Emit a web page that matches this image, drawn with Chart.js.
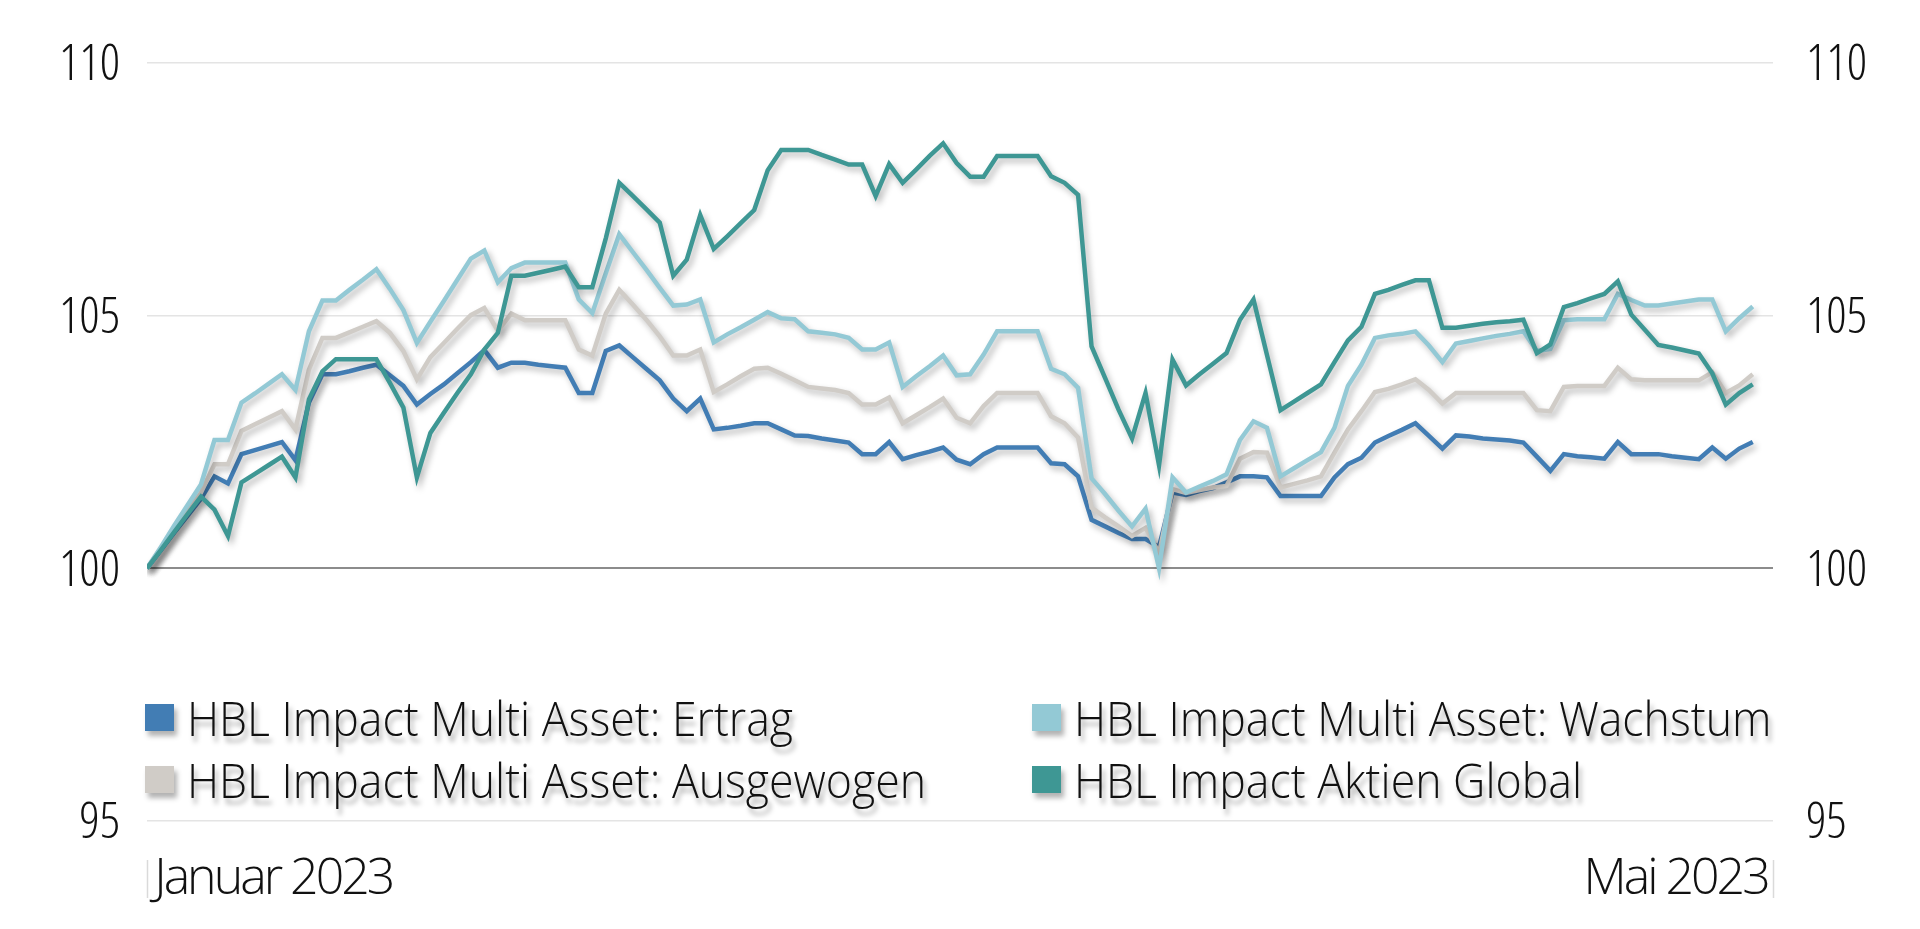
<!DOCTYPE html>
<html lang="de">
<head>
<meta charset="utf-8">
<title>HBL Impact Fonds 2023</title>
<script src="https://cdn.jsdelivr.net/npm/chart.js@4.4.1/dist/chart.umd.min.js"></script>
<style>
  html, body { margin: 0; padding: 0; background: #fff; }
  #wrap { position: relative; width: 1920px; height: 929px; overflow: hidden; }
  #legend { position: absolute; left: 0; top: 0; font-family: 'Open Sans', sans-serif; font-weight: 300; font-size: 48px; color: #111; }
  .item { position: absolute; white-space: nowrap; line-height: 48px; height: 48px; }
  .swatch { position: absolute; left: 0; top: 10px; width: 29px; height: 27px; box-shadow: 3px 5px 5px rgba(0,0,0,0.3); }
  .label { position: absolute; left: 42px; top: 0; display: inline-block; transform: scaleX(0.93); transform-origin: left center; text-shadow: 3px 6px 6px rgba(0,0,0,0.35); }
</style>
</head>
<body>
<div id="wrap">
  <canvas id="chart" width="1920" height="929"></canvas>
  <div id="legend"></div>
</div>
<script>
// series names + colours, legend order
const seriesNames = [
  'HBL Impact Multi Asset: Ertrag',
  'HBL Impact Multi Asset: Wachstum',
  'HBL Impact Multi Asset: Ausgewogen',
  'HBL Impact Aktien Global'
];
const seriesColors = ['#427db4', '#93c9d5', '#d0ccc7', '#3e9794'];

// daily index values, 1 Jan 2023 = 100
const ertrag = [
  100, 100.35, 100.70, 101.04, 101.38, 101.82, 101.68, 102.26, 102.34, 102.42,
  102.50, 102.14, 103.28, 103.84, 103.84, 103.90, 103.97, 104.03, 103.82, 103.61,
  103.24, 103.45, 103.64, 103.86, 104.08, 104.32, 103.97, 104.07, 104.07, 104.03,
  104.00, 103.97, 103.47, 103.47, 104.30, 104.41, 104.18, 103.95, 103.72, 103.36,
  103.11, 103.36, 102.75, 102.78, 102.82, 102.87, 102.87, 102.75, 102.63, 102.62,
  102.57, 102.53, 102.49, 102.26, 102.26, 102.50, 102.16, 102.24, 102.31, 102.39,
  102.15, 102.06, 102.26, 102.39, 102.39, 102.39, 102.39, 102.08, 102.06, 101.82,
  100.96, 100.83, 100.70, 100.58, 100.58, 100.42, 101.50, 101.45, 101.53, 101.59,
  101.70, 101.82, 101.82, 101.80, 101.43, 101.43, 101.43, 101.43, 101.80, 102.06,
  102.19, 102.49, 102.62, 102.74, 102.87, 102.62, 102.37, 102.63, 102.61, 102.57,
  102.55, 102.53, 102.49, 102.21, 101.93, 102.26, 102.22, 102.20, 102.17, 102.50,
  102.26, 102.26, 102.26, 102.22, 102.19, 102.16, 102.39, 102.17, 102.37, 102.50
];
const wachstum = [
  100, 100.41, 100.84, 101.25, 101.66, 102.54, 102.54, 103.28, 103.46, 103.65,
  103.84, 103.53, 104.69, 105.30, 105.30, 105.51, 105.71, 105.92, 105.53, 105.11,
  104.46, 104.88, 105.29, 105.71, 106.13, 106.29, 105.66, 105.94, 106.05, 106.05,
  106.05, 106.05, 105.32, 105.05, 105.84, 106.61, 106.26, 105.91, 105.55, 105.20,
  105.22, 105.32, 104.47, 104.63, 104.77, 104.92, 105.07, 104.95, 104.93, 104.69,
  104.66, 104.63, 104.56, 104.33, 104.33, 104.47, 103.59, 103.80, 104.00, 104.21,
  103.82, 103.84, 104.23, 104.69, 104.69, 104.69, 104.69, 103.95, 103.84, 103.57,
  101.78, 101.47, 101.14, 100.83, 101.18, 100.00, 101.80, 101.50, 101.62, 101.73,
  101.86, 102.54, 102.91, 102.78, 101.82, 101.98, 102.14, 102.30, 102.78, 103.61,
  104.03, 104.56, 104.61, 104.64, 104.69, 104.41, 104.08, 104.45, 104.50, 104.55,
  104.60, 104.64, 104.69, 104.30, 104.34, 104.91, 104.93, 104.93, 104.93, 105.43,
  105.31, 105.20, 105.20, 105.24, 105.28, 105.32, 105.32, 104.69, 104.95, 105.18
];
const ausgewogen = [
  100, 100.38, 100.76, 101.13, 101.50, 102.06, 102.06, 102.72, 102.85, 102.98,
  103.11, 102.75, 103.93, 104.56, 104.56, 104.67, 104.78, 104.89, 104.66, 104.30,
  103.74, 104.18, 104.46, 104.74, 105.01, 105.15, 104.70, 105.04, 104.91, 104.91,
  104.91, 104.91, 104.33, 104.21, 105.04, 105.51, 105.22, 104.92, 104.59, 104.21,
  104.21, 104.33, 103.49, 103.64, 103.80, 103.95, 103.97, 103.85, 103.72, 103.59,
  103.56, 103.53, 103.47, 103.24, 103.24, 103.38, 102.87, 103.03, 103.19, 103.36,
  102.98, 102.87, 103.21, 103.47, 103.47, 103.47, 103.47, 103.01, 102.87, 102.59,
  101.20, 101.01, 100.83, 100.64, 100.80, 100.30, 101.57, 101.49, 101.55, 101.60,
  101.63, 102.17, 102.30, 102.29, 101.60, 101.67, 101.74, 101.82, 102.29, 102.75,
  103.11, 103.49, 103.55, 103.64, 103.74, 103.53, 103.26, 103.47, 103.47, 103.47,
  103.47, 103.47, 103.47, 103.13, 103.11, 103.59, 103.61, 103.61, 103.61, 103.97,
  103.74, 103.72, 103.72, 103.72, 103.72, 103.72, 103.88, 103.47, 103.62, 103.84
];
const aktienGlobal = [
  100, 100.35, 100.71, 101.07, 101.42, 101.16, 100.64, 101.70, 101.87, 102.04,
  102.21, 101.80, 103.34, 103.90, 104.14, 104.14, 104.14, 104.14, 103.67, 103.18,
  101.80, 102.68, 103.08, 103.47, 103.84, 104.33, 104.66, 105.79, 105.79, 105.85,
  105.91, 105.97, 105.56, 105.56, 106.53, 107.63, 107.37, 107.11, 106.84, 105.79,
  106.11, 106.99, 106.32, 106.57, 106.83, 107.09, 107.88, 108.28, 108.28, 108.28,
  108.18, 108.09, 107.99, 107.99, 107.37, 108.00, 107.63, 107.89, 108.16, 108.41,
  108.02, 107.75, 107.75, 108.16, 108.16, 108.16, 108.16, 107.76, 107.63, 107.39,
  104.39, 103.77, 103.14, 102.57, 103.47, 102.04, 104.13, 103.62, 103.84, 104.05,
  104.26, 104.92, 105.32, 104.22, 103.13, 103.30, 103.47, 103.64, 104.08, 104.51,
  104.78, 105.43, 105.51, 105.61, 105.70, 105.70, 104.76, 104.76, 104.80, 104.84,
  104.87, 104.89, 104.92, 104.26, 104.43, 105.17, 105.25, 105.34, 105.43, 105.68,
  105.02, 104.72, 104.42, 104.37, 104.31, 104.25, 103.86, 103.24, 103.47, 103.64
];
const seriesValues = [ertrag, wachstum, ausgewogen, aktienGlobal];

// axis labels (thin spaces keep them off the edge ticks)
const xStartLabel = '\u2009\u200AJanuar 2023';
const xEndLabel = 'Mai 2023\u2009';
const yTickValues = [95, 100, 105, 110];
const dayIndex = ertrag.map((_, i) => i);

// layout bits
const X_MAX = 120.5;            // axis runs a little past the last day
const drawOrder = [3, 1, 2, 0]; // teal on top, blue at the bottom
const legendSlots = [
  { left: 145, top: 694 }, { left: 1032, top: 694 },
  { left: 145, top: 756 }, { left: 1032, top: 756 }
];

// Open Sans is variable here, "condensed" picks the narrow width
const yFont = { family: "'Open Sans', sans-serif", size: 50, weight: 'condensed 300' };
const xFont = { family: "'Open Sans', sans-serif", size: 50, weight: '300' };

/* soft drop shadow under the lines; x labels (z 1) get a tighter letter spacing */
const lineShadow = {
  id: 'lineShadow',
  beforeDatasetsDraw(chart) {
    const c = chart.ctx;
    c.save();
    c.shadowColor = 'rgba(0,0,0,0.28)';
    c.shadowBlur = 6;
    c.shadowOffsetX = 3;
    c.shadowOffsetY = 4;
  },
  afterDatasetsDraw(chart) {
    chart.ctx.restore();
    chart.ctx.letterSpacing = '-3px';
  },
  afterDraw(chart) {
    chart.ctx.letterSpacing = '0px';
  }
};

const yTicks = {
  padding: 27,
  color: '#111',
  font: yFont,
  labelOffset: 3
};

new Chart(document.getElementById('chart'), {
  type: 'line',
  data: {
    labels: dayIndex,
    datasets: seriesNames.map((name, i) => ({
      label: name,
      data: seriesValues[i],
      borderColor: seriesColors[i],
      backgroundColor: seriesColors[i],
      borderWidth: 4.5,
      pointRadius: 0,
      tension: 0,
      fill: false,
      order: drawOrder[i]
    }))
  },
  options: {
    responsive: false,
    animation: false,
    devicePixelRatio: 1,
    layout: { padding: { top: 57, left: 0, right: 0, bottom: 0 } },
    plugins: { legend: { display: false }, tooltip: { enabled: false } },
    scales: {
      x: {
        type: 'linear',
        min: 0,
        max: X_MAX,
        afterBuildTicks: s => { s.ticks = [{ value: 0 }, { value: X_MAX }]; },
        afterFit: s => { s.height = 108; },
        border: { display: false },
        grid: {
          drawOnChartArea: false,
          drawTicks: true,
          tickLength: 77,
          tickColor: '#dadada',
          tickWidth: 1.5,
          tickBorderDash: [0, 39, 38, 300]
        },
        ticks: {
          z: 1,
          align: 'inner',
          padding: -48,
          maxRotation: 0,
          autoSkip: false,
          color: '#111',
          font: xFont,
          callback: v => (v === 0 ? xStartLabel : xEndLabel)
        }
      },
      y: {
        position: 'left',
        min: 95,
        max: 110,
        afterBuildTicks: s => { s.ticks = yTickValues.map(v => ({ value: v })); },
        afterFit: s => { s.width = 147; },
        border: { display: false },
        grid: {
          drawTicks: false,
          color: c => (c.tick && c.tick.value === 100 ? '#8c8c8c' : '#e4e4e4'),
          lineWidth: c => (c.tick && c.tick.value === 100 ? 2 : 1.5)
        },
        ticks: yTicks
      },
      y2: {
        type: 'linear',
        position: 'right',
        min: 95,
        max: 110,
        afterBuildTicks: s => { s.ticks = yTickValues.map(v => ({ value: v })); },
        afterFit: s => { s.width = 147; },
        border: { display: false },
        grid: { drawOnChartArea: false, drawTicks: false },
        ticks: Object.assign({}, yTicks, { padding: 33 })
      }
    }
  },
  plugins: [lineShadow]
});

/* legend: 2 columns, row-major, like the original */
const legend = document.getElementById('legend');
seriesNames.forEach((name, i) => {
  const item = document.createElement('div');
  item.className = 'item';
  item.style.left = legendSlots[i].left + 'px';
  item.style.top = legendSlots[i].top + 'px';
  const sw = document.createElement('span');
  sw.className = 'swatch';
  sw.style.background = seriesColors[i];
  const tx = document.createElement('span');
  tx.className = 'label';
  tx.textContent = name;
  item.appendChild(sw);
  item.appendChild(tx);
  legend.appendChild(item);
});
</script>
</body>
</html>
